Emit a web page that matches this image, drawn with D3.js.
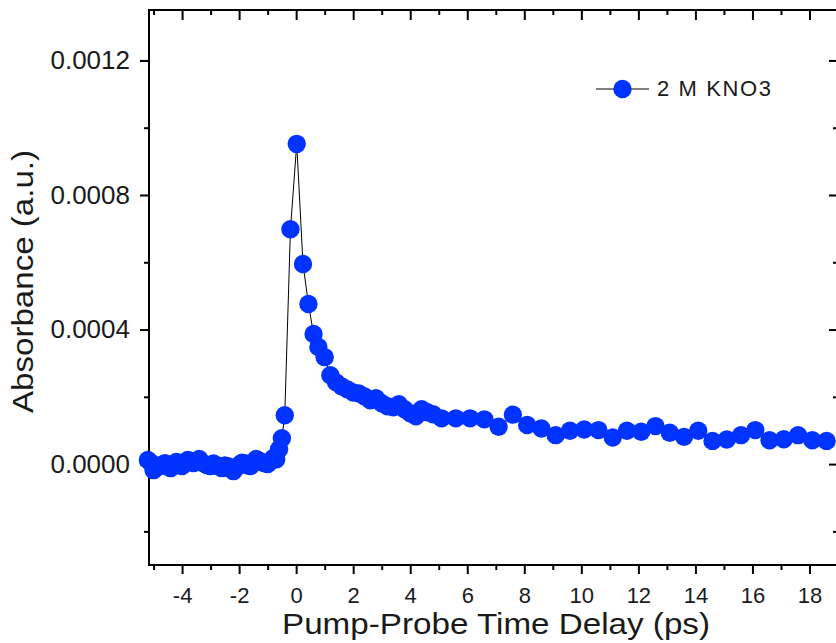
<!DOCTYPE html>
<html>
<head>
<meta charset="utf-8">
<script src="https://cdn.jsdelivr.net/npm/d3@7"></script>
<style>
  body { margin: 0; background: #fff; }
  svg { display: block; font-family: Arial, 'Liberation Sans', sans-serif; }
</style>
</head>
<body>
<script>
// pump-probe delay (ps) and absorbance
const timeDelay = [
  -5.2, -5.1, -5.0, -4.9, -4.8, -4.7, -4.6, -4.5, -4.4, -4.3, -4.2, -4.1,
  -4.0, -3.9, -3.8, -3.7, -3.6, -3.5, -3.4, -3.3, -3.2, -3.1, -3.0, -2.9,
  -2.8, -2.7, -2.6, -2.5, -2.4, -2.3, -2.2, -2.1, -2.0, -1.9, -1.8, -1.7,
  -1.6, -1.5, -1.4, -1.3, -1.2, -1.1, -1.0, -0.9, -0.8, -0.7,
  -0.6, -0.5, -0.4, -0.2, 0.02, 0.24, 0.43, 0.61, 0.78, 1.0, 1.2,
  1.4, 1.6, 1.8, 2.0, 2.2, 2.4, 2.6, 2.8, 3.0, 3.2, 3.4, 3.6, 3.8, 4.0,
  4.2, 4.4, 4.6, 4.8, 5.1, 5.6, 6.1, 6.6, 7.1, 7.6, 8.1, 8.6, 9.1, 9.6,
  10.1, 10.6, 11.1, 11.6, 12.1, 12.6, 13.1, 13.6, 14.1, 14.6, 15.1, 15.6,
  16.1, 16.6, 17.1, 17.6, 18.1, 18.6
]
const absorbance = [
  0.000012, 0.000005, -0.000018, -0.00001, -0.000006, -0.000002, 0.000003, -0.000008,
  -0.000012, -0.000004, 0.000006, 0.0, -0.000006, 0.000004, 0.000012, 0.000006,
  0.000003, 0.00001, 0.000015, 0.000004, 0.0, -0.000004, -0.000006, 0.000002,
  -0.000003, -0.000008, -0.000012, -0.000004, -0.000006, -0.000014, -0.000021, -0.00001,
  -0.000003, 0.000004, 0.000003, -0.000004, -0.000006, 0.000006, 0.000015, 0.00001,
  0.000006, 0.000002, 0.0, 0.000008, 0.000018, 0.000014,
  0.000044, 0.000077, 0.000145, 0.000698, 0.000952, 0.000595, 0.000476, 0.000387,
  0.000348, 0.000318, 0.000264,
  0.000243, 0.000231, 0.000222, 0.000213, 0.00021, 0.000201, 0.00019, 0.000196,
  0.000181, 0.000172, 0.000169, 0.000178, 0.000163, 0.000151, 0.000142, 0.000163,
  0.000154, 0.000148, 0.000136, 0.000136, 0.000136, 0.000133, 0.000111, 0.000147,
  0.000116, 0.000106, 0.000086, 0.000099, 0.000103, 0.000101, 0.000079, 0.000099,
  0.000096, 0.000113, 0.000093, 0.000081, 0.000099, 0.000069, 0.000073, 0.000086,
  0.000101, 0.000071, 0.000074, 0.000086, 0.000071, 0.000069
]
const xMajorTicks = [-4, -2, 0, 2, 4, 6, 8, 10, 12, 14, 16, 18]
const xMinorTicks = [-5, -3, -1, 1, 3, 5, 7, 9, 11, 13, 15, 17]
const yMajorTicks = [0, 0.0004, 0.0008, 0.0012]
const yMinorTicks = [-0.0002, 0.0002, 0.0006, 0.001]
const seriesName = '2 M KNO3'

const width = 836
const height = 643
const plotLeft = 149
const plotRight = 838
const plotTop = 10
const plotBottom = 565
const blue = '#0033ff'

const points = timeDelay.map((t, i) => ({ t, a: absorbance[i] }))

const x = d3.scaleLinear().domain([-5.16, 19.0]).range([plotLeft, plotRight])
const y = d3.scaleLinear().domain([-0.0003, 0.00135]).range([plotBottom, plotTop])

const svg = d3
  .select('body')
  .append('svg')
  .attr('width', width)
  .attr('height', height)

// Axes: major ticks with labels, minor ticks without
function styleAxis(g) {
  g.select('.domain').remove()
  g.selectAll('.tick line').attr('stroke', '#000').attr('stroke-width', 2)
}

const xBottom = svg
  .append('g')
  .attr('transform', `translate(0,${plotBottom})`)
  .call(d3.axisBottom(x).tickValues(xMajorTicks).tickSize(9).tickPadding(13).tickFormat((d) => String(d)))
xBottom.call(styleAxis)
xBottom.selectAll('text').attr('font-size', 22).attr('fill', '#1a1a1a')
svg
  .append('g')
  .attr('transform', `translate(0,${plotBottom})`)
  .call(d3.axisBottom(x).tickValues(xMinorTicks).tickSize(5).tickFormat(''))
  .call(styleAxis)

svg
  .append('g')
  .attr('transform', `translate(0,${plotTop})`)
  .call(d3.axisBottom(x).tickValues(xMajorTicks).tickSize(10).tickFormat(''))
  .call(styleAxis)
svg
  .append('g')
  .attr('transform', `translate(0,${plotTop})`)
  .call(d3.axisBottom(x).tickValues(xMinorTicks).tickSize(5).tickFormat(''))
  .call(styleAxis)

const yLeft = svg
  .append('g')
  .attr('transform', `translate(${plotLeft},0)`)
  .call(d3.axisLeft(y).tickValues(yMajorTicks).tickSize(9).tickPadding(10).tickFormat(d3.format('.4f')))
yLeft.call(styleAxis)
yLeft.selectAll('text').attr('font-size', 26).attr('fill', '#1a1a1a')
svg
  .append('g')
  .attr('transform', `translate(${plotLeft},0)`)
  .call(d3.axisLeft(y).tickValues(yMinorTicks).tickSize(5).tickFormat(''))
  .call(styleAxis)

svg
  .append('g')
  .attr('transform', `translate(${plotRight},0)`)
  .call(d3.axisLeft(y).tickValues(yMajorTicks).tickSize(9).tickFormat(''))
  .call(styleAxis)
svg
  .append('g')
  .attr('transform', `translate(${plotRight},0)`)
  .call(d3.axisLeft(y).tickValues(yMinorTicks).tickSize(5).tickFormat(''))
  .call(styleAxis)

// Frame
svg
  .append('rect')
  .attr('x', plotLeft)
  .attr('y', plotTop)
  .attr('width', plotRight - plotLeft)
  .attr('height', plotBottom - plotTop)
  .attr('fill', 'none')
  .attr('stroke', '#000')
  .attr('stroke-width', 2)

// Series
const line = d3
  .line()
  .x((d) => x(d.t))
  .y((d) => y(d.a))

svg
  .append('path')
  .datum(points)
  .attr('d', line)
  .attr('fill', 'none')
  .attr('stroke', '#000')
  .attr('stroke-width', 1)

svg
  .append('g')
  .selectAll('circle')
  .data(points)
  .enter()
  .append('circle')
  .attr('cx', (d) => x(d.t))
  .attr('cy', (d) => y(d.a))
  .attr('r', 9.2)
  .attr('fill', blue)

// Legend
const legend = svg.append('g').attr('transform', 'translate(596,89)')
legend
  .append('line')
  .attr('x1', 0)
  .attr('x2', 53)
  .attr('stroke', '#000')
  .attr('stroke-width', 1)
legend.append('circle').attr('cx', 26.5).attr('r', 9.2).attr('fill', blue)
legend
  .append('text')
  .attr('x', 61)
  .attr('y', 7)
  .attr('font-size', 22)
  .attr('fill', '#1a1a1a')
  .attr('textLength', 114)
  .attr('lengthAdjust', 'spacing')
  .text(seriesName)

// Axis titles
svg
  .append('text')
  .attr('x', 282)
  .attr('y', 634)
  .attr('font-size', 30)
  .attr('fill', '#1a1a1a')
  .attr('textLength', 428)
  .attr('lengthAdjust', 'spacingAndGlyphs')
  .text('Pump-Probe Time Delay (ps)')

svg
  .append('text')
  .attr('transform', 'translate(33,413) rotate(-90)')
  .attr('font-size', 30)
  .attr('fill', '#1a1a1a')
  .attr('textLength', 263)
  .attr('lengthAdjust', 'spacingAndGlyphs')
  .text('Absorbance (a.u.)')
</script>
</body>
</html>
